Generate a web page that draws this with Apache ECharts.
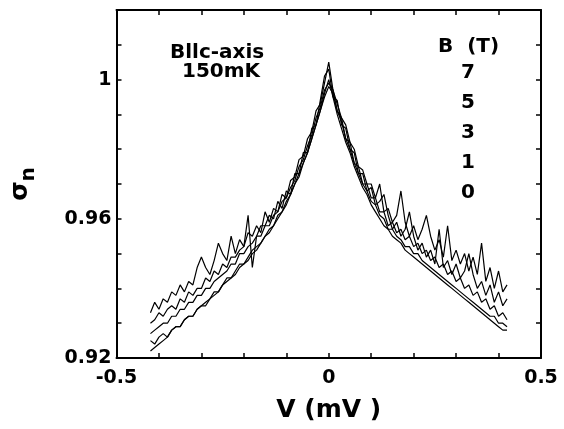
<!DOCTYPE html>
<html>
<head>
<meta charset="utf-8">
<script src="https://cdn.jsdelivr.net/npm/echarts@6/dist/echarts.min.js"></script>
<style>html,body{margin:0;padding:0;background:#fff}#c{width:564px;height:429px}</style>
</head>
<body>
<div id="c"></div>
<script>
const V = [-0.42,-0.41,-0.40,-0.39,-0.38,-0.37,-0.36,-0.35,-0.34,-0.33,-0.32,-0.31,-0.30,-0.29,-0.28,-0.27,-0.26,-0.25,-0.24,-0.23,-0.22,-0.21,-0.20,-0.19,-0.18,-0.17,-0.16,-0.15,-0.14,-0.13,-0.12,-0.11,-0.10,-0.09,-0.08,-0.07,-0.06,-0.05,-0.04,-0.03,-0.02,-0.01,0.00,0.01,0.02,0.03,0.04,0.05,0.06,0.07,0.08,0.09,0.10,0.11,0.12,0.13,0.14,0.15,0.16,0.17,0.18,0.19,0.20,0.21,0.22,0.23,0.24,0.25,0.26,0.27,0.28,0.29,0.30,0.31,0.32,0.33,0.34,0.35,0.36,0.37,0.38,0.39,0.40,0.41,0.42];

const sigma7T = [.933,.936,.934,.937,.936,.939,.938,.941,.939,.942,.941,.946,.949,.946,.944,.948,.953,.950,.948,.955,.950,.954,.952,.956,.955,.958,.956,.962,.959,.963,.962,.967,.966,.971,.972,.977,.978,.983,.985,.991,.993,.999,1.005,.997,.993,.989,.987,.982,.980,.975,.974,.970,.970,.966,.970,.962,.963,.959,.961,.968,.959,.955,.958,.954,.957,.961,.955,.951,.954,.949,.958,.948,.951,.947,.950,.945,.949,.944,.953,.942,.946,.940,.945,.939,.941];
const sigma5T = [.930,.931,.933,.932,.934,.935,.934,.937,.936,.939,.938,.940,.940,.943,.942,.945,.944,.947,.946,.949,.949,.951,.952,.961,.946,.955,.958,.958,.961,.960,.965,.963,.968,.967,.973,.973,.979,.979,.986,.987,.994,1.001,1.003,.995,.994,.987,.986,.980,.979,.973,.973,.968,.969,.964,.965,.967,.961,.957,.959,.955,.957,.962,.955,.951,.953,.949,.951,.947,.957,.946,.948,.944,.947,.943,.945,.950,.944,.940,.942,.938,.941,.936,.939,.935,.937];
const sigma3T = [.927,.928,.929,.930,.930,.932,.932,.934,.934,.936,.936,.938,.938,.940,.940,.942,.943,.944,.945,.947,.947,.950,.950,.952,.953,.955,.955,.958,.958,.961,.962,.965,.966,.969,.971,.975,.977,.981,.984,.989,.992,.997,.999,.997,.991,.989,.983,.982,.976,.975,.970,.970,.966,.966,.962,.962,.958,.959,.956,.957,.954,.955,.952,.953,.950,.951,.948,.949,.946,.947,.944,.945,.942,.943,.940,.941,.938,.939,.936,.937,.934,.935,.932,.933,.931];
const sigma1T = [.925,.924,.926,.927,.926,.928,.929,.929,.931,.932,.932,.934,.935,.935,.937,.939,.939,.941,.943,.943,.945,.947,.947,.949,.951,.952,.953,.955,.957,.958,.961,.962,.965,.967,.970,.973,.976,.979,.983,.987,.991,.995,.998,.996,.991,.988,.983,.980,.976,.973,.970,.968,.965,.964,.961,.960,.957,.957,.955,.954,.952,.952,.950,.950,.948,.947,.946,.945,.944,.943,.942,.941,.940,.939,.938,.937,.936,.935,.934,.933,.932,.932,.930,.930,.929];
const sigma0T = [.922,.923,.924,.925,.926,.928,.929,.929,.931,.932,.932,.934,.935,.936,.937,.938,.939,.941,.942,.943,.944,.946,.947,.948,.950,.951,.953,.955,.956,.958,.960,.962,.964,.967,.970,.972,.976,.979,.983,.987,.991,.996,1.000,.995,.990,.986,.982,.979,.975,.972,.969,.967,.964,.962,.960,.958,.957,.955,.954,.953,.951,.950,.949,.948,.947,.946,.945,.944,.943,.942,.941,.940,.939,.938,.937,.936,.935,.934,.933,.932,.931,.930,.929,.928,.928];

const fieldLabels = ['7','5','3','1','0'];
const seriesValues = [sigma7T, sigma5T, sigma3T, sigma1T, sigma0T];
const xTickLabels = {'-0.5':'-0.5','0':'0','0.5':'0.5'};
const yTickLabels = {'0.92':'0.92','0.96':'0.96','1':'1'};

function key(v){ return String(Math.round(v*100)/100); }

const chart = echarts.init(document.getElementById('c'));
const F = '"DejaVu Sans", Verdana, sans-serif';
const series = seriesValues.map((arr, i) => ({
  name: 'B=' + fieldLabels[i] + ' T',
  type: 'line',
  data: V.map((v, j) => [v, arr[j]]),
  showSymbol: false,
  lineStyle: { color: '#000', width: 1.2 },
  animation: false
}));

const axisCommon = {
  axisLine: { show: true, onZero: false, lineStyle: { color: '#000', width: 2 } },
  axisTick: { show: true, inside: true, length: 5, lineStyle: { color: '#000', width: 1.5 } },
  splitLine: { show: false }
};

chart.setOption({
  animation: false,
  backgroundColor: '#fff',
  grid: { left: 109, right: 23, top: 10, bottom: 71 },
  xAxis: [
    Object.assign({
      type: 'value', min: -0.5, max: 0.5, interval: 0.1, position: 'bottom',
      name: 'V (mV )', nameLocation: 'middle', nameGap: 40,
      nameTextStyle: { fontFamily: F, fontWeight: 'bold', fontSize: 25, color: '#000' },
      axisLabel: { color: '#000', fontFamily: F, fontWeight: 'bold', fontSize: 19, margin: 11,
        formatter: v => xTickLabels[key(v)] || '' }
    }, axisCommon),
    Object.assign({
      type: 'value', min: -0.5, max: 0.5, interval: 0.1, position: 'top',
      axisLabel: { show: false }
    }, axisCommon)
  ],
  yAxis: [
    Object.assign({
      type: 'value', min: 0.92, max: 1.02, interval: 0.01, position: 'left',
      name: '{s|σ}{n|n}', nameLocation: 'middle', nameGap: 78, nameRotate: 90,
      nameTextStyle: { color: '#000', rich: {
        s: { fontFamily: F, fontSize: 25, fontWeight: 'bold', color: '#000' },
        n: { fontFamily: F, fontSize: 20, fontWeight: 'bold', color: '#000', padding: [16, 0, 0, 0] }
      } },
      axisLabel: { color: '#000', fontFamily: F, fontWeight: 'bold', fontSize: 19, margin: 5,
        formatter: v => yTickLabels[key(v)] || '' }
    }, axisCommon),
    Object.assign({
      type: 'value', min: 0.92, max: 1.02, interval: 0.01, position: 'right',
      axisLabel: { show: false }
    }, axisCommon)
  ],
  graphic: [
    { type: 'text', left: 170, top: 43, style: { text: 'Bllc-axis', font: 'bold 20px ' + F, fill: '#000' } },
    { type: 'text', left: 182, top: 62, style: { text: '150mK', font: 'bold 20px ' + F, fill: '#000' } },
    { type: 'text', left: 438, top: 37, style: { text: 'B  (T)', font: 'bold 20px ' + F, fill: '#000' } },
    { type: 'text', left: 461, top: 58, style: { text: fieldLabels.join('\n'), font: 'bold 20px ' + F, lineHeight: 30, fill: '#000' } }
  ],
  series: series
});
</script>
</body>
</html>
